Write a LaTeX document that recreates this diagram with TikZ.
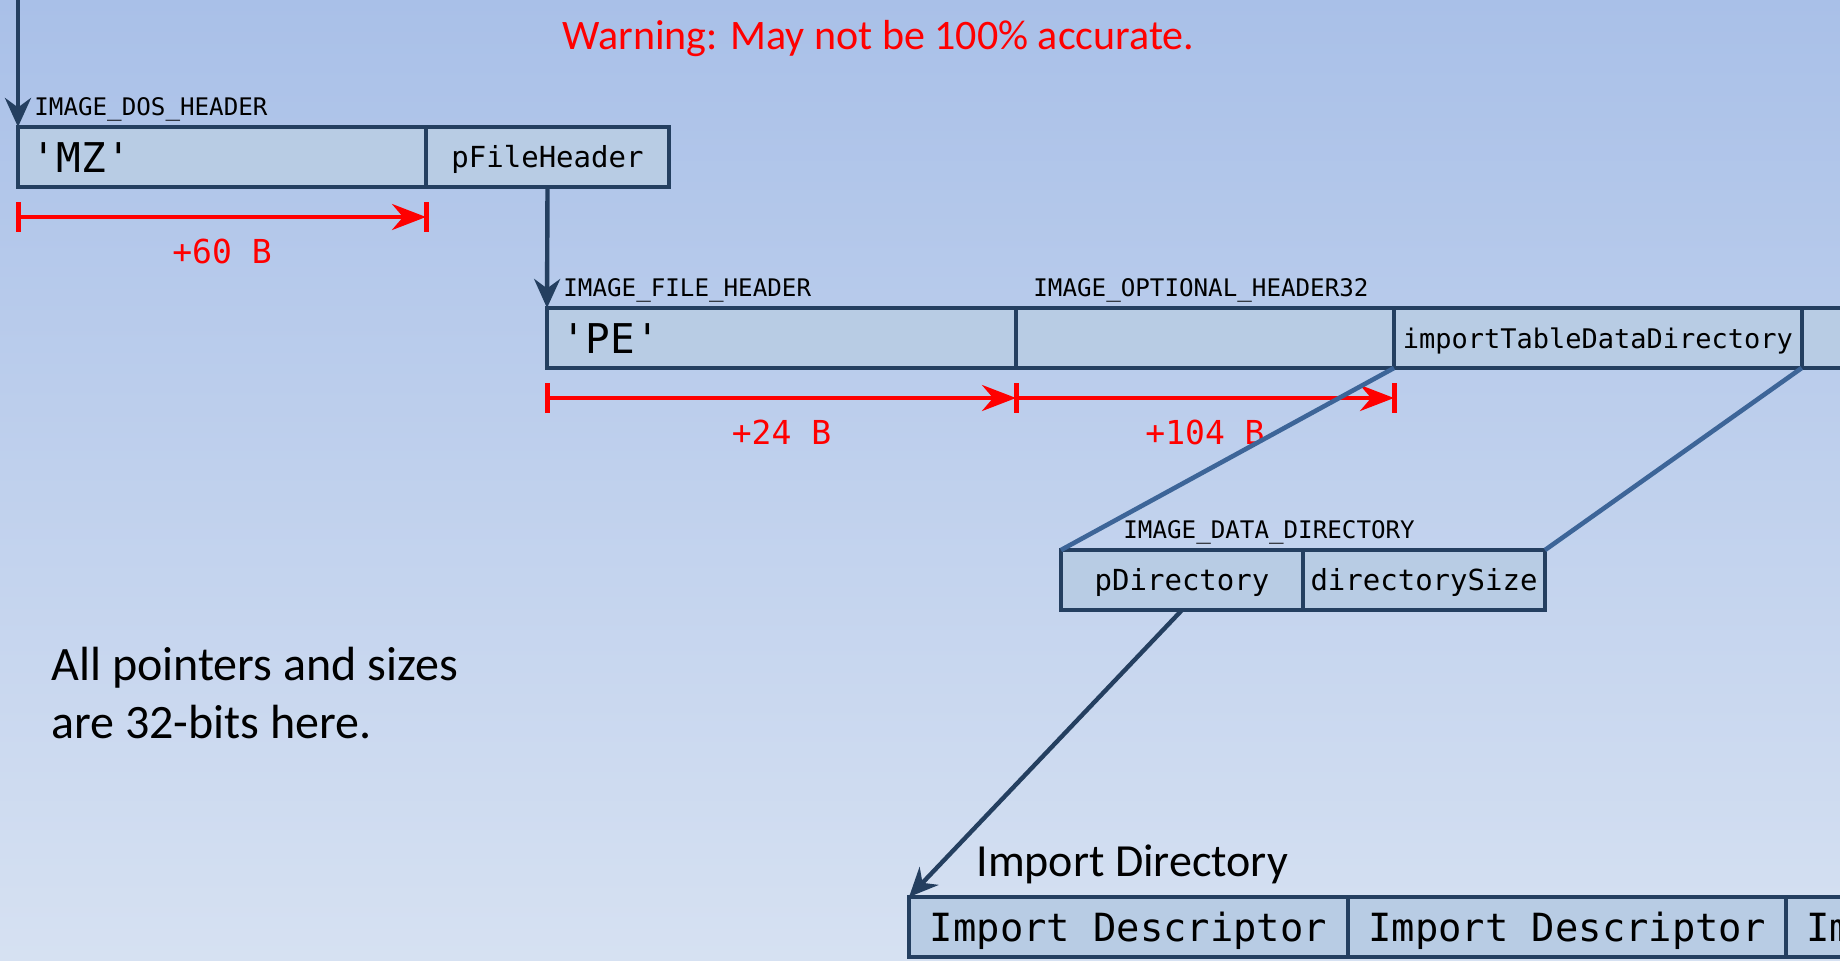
\documentclass[tikz,border=0pt]{standalone}
\usepackage{fontspec}
\setmainfont{Carlito}
\setmonofont{DejaVu Sans Mono}
\usetikzlibrary{arrows.meta,positioning,calc}
\definecolor{navy}{HTML}{243F60}
\definecolor{zoomblue}{HTML}{3D6598}
\definecolor{cellfill}{HTML}{B8CCE4}
\definecolor{skytop}{HTML}{A9C0E8}
\definecolor{skybottom}{HTML}{D6E1F2}
\definecolor{warnred}{HTML}{FF0000}
\tikzset{
  cell/.style={rectangle, draw=navy, line width=2.2pt, fill=cellfill, outer sep=0pt, inner xsep=2pt, minimum height=30pt, text height=10.7pt, text depth=0pt, font=\ttfamily\fontsize{14.5}{17}\selectfont},
  lcell/.style={cell, align=left, text width=#1, inner xsep=7pt, text height=15.2pt, font=\ttfamily\fontsize{20.5}{24}\selectfont},
  desc/.style={cell, minimum width=#1, text height=14.4pt, font=\ttfamily\fontsize{19.4}{23}\selectfont},
  tag/.style={inner sep=0pt, anchor=base west, font=\ttfamily\fontsize{12.1}{14}\selectfont},
  ptr/.style={-{Stealth[length=14.5pt, width=13pt]}, draw=navy, line width=2.2pt},
  zoomline/.style={draw=zoomblue, line width=2.3pt},
  measure/.style={-{Stealth[length=17pt, width=13pt]}, draw=warnred, line width=2pt},
  tick/.style={draw=warnred, line width=2.5pt},
  size/.style={text=warnred, inner sep=0pt, font=\ttfamily\fontsize{16.5}{20}\selectfont},
  prose/.style={inner sep=0pt, anchor=base west, align=left}
}
\begin{document}
\begin{tikzpicture}[x=0.5pt, y=-0.5pt]
  \useasboundingbox (0,0) rectangle (1840,960);
  \clip (0,0) rectangle (1840,960);
  \fill[top color=skytop, bottom color=skybottom] (0,0) rectangle (1840,960);

  \node[lcell=190pt, anchor=north west] (mz) at (18,127) {\textquotesingle MZ\textquotesingle};
  \node[cell, minimum width=121.5pt, right=0pt of mz] (pfh) {pFileHeader};

  \node[lcell=220.5pt, anchor=north west] (pe) at (547,308) {\textquotesingle PE\textquotesingle};
  \node[cell, minimum width=189pt, right=0pt of pe] (opt) {};
  \node[cell, minimum width=203.85pt, text height=10pt, font=\ttfamily\fontsize{13.5}{16}\selectfont, right=0pt of opt] (itdd) {importTableDataDirectory};
  \node[cell, minimum width=150pt, right=0pt of itdd] (pastitdd) {};

  \node[cell, minimum width=121pt, anchor=north west] (pdir) at (1061,550) {pDirectory};
  \node[cell, minimum width=121pt, right=0pt of pdir] (dsize) {directorySize};

  \node[desc=219.5pt, anchor=north west] (desc1) at (909,897) {Import Descriptor};
  \node[desc=219pt, right=0pt of desc1] (desc2) {Import Descriptor};
  \node[desc=219pt, right=0pt of desc2] (desc3) {Import Descriptor};

  \node[tag] (doslbl) at ($(mz.north west)+(8pt,6pt)$) {IMAGE\_DOS\_HEADER};
  \node[tag] (filelbl) at ($(pe.north west)+(8pt,6pt)$) {IMAGE\_FILE\_HEADER};
  \node[tag] (optlbl) at ($(opt.north west)+(8.5pt,6pt)$) {IMAGE\_OPTIONAL\_HEADER32};
  \node[tag] (dirlbl) at ($(pdir.north west)+(31pt,6pt)$) {IMAGE\_DATA\_DIRECTORY};

  \coordinate (m0) at ($(mz.south west)+(0,-15pt)$);
  \coordinate (m1) at ($(mz.south east)+(0,-15pt)$);
  \coordinate (f0) at ($(pe.south west)+(0,-15pt)$);
  \coordinate (f1) at ($(opt.south west)+(0,-15pt)$);
  \coordinate (f2) at ($(itdd.south west)+(0,-15pt)$);
  \draw[measure] (m0) -- node[size, below=10pt] (sz60) {+60 B} (m1);
  \draw[measure] (f0) -- node[size, below=10pt] (sz24) {+24 B} (f1);
  \draw[measure] (f1) -- node[size, below=10pt] (sz104) {+104 B} (f2);
  \foreach \c in {m0,m1,f0,f1,f2}
    \draw[tick] ($(\c)+(0,7.5pt)$) -- ($(\c)+(0,-7.5pt)$);

  \draw[zoomline] (itdd.south west) -- (pdir.north west);
  \draw[zoomline] (itdd.south east) -- (dsize.north east);

  \coordinate (entry) at (18,-10);
  \draw[ptr] (entry) -- (mz.north west);
  \draw[ptr] (pfh.south) -- (pe.north west);
  \draw[ptr] (pdir.south) -- (desc1.north west);

  \node[prose, text=warnred, font=\fontsize{21}{25}\selectfont] (warning) at (562,49) {Warning: May not be 100\% accurate.};
  \node[prose, font=\fontsize{24}{29}\selectfont] (note) at (51,738) {All pointers and sizes\\are 32-bits here.};
  \node[prose, font=\fontsize{23}{27}\selectfont] (impdir) at ($(desc1.north west)+(33.5pt,10.5pt)$) {Import Directory};
\end{tikzpicture}
\end{document}
